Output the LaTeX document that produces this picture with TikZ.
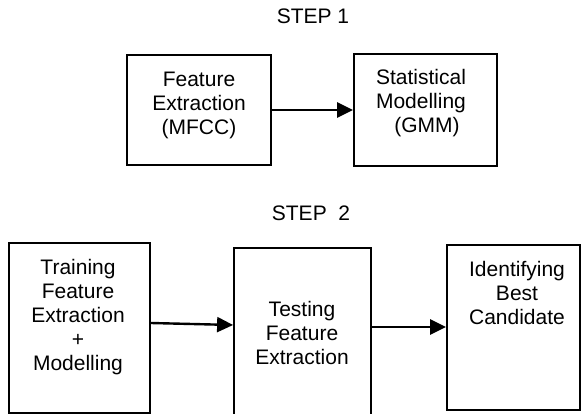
\documentclass[tikz,border=0pt]{standalone}
\usepackage{fontspec}
\setmainfont{Liberation Sans}
\usetikzlibrary{arrows.meta}
\tikzset{
  box/.style={draw=black, line width=1.8pt, rectangle, inner sep=0pt},
  label text/.style={align=center, inner sep=0pt, font=\fontsize{21}{24}\selectfont},
  flow/.style={draw=black, line width=2.4pt, -{Triangle[length=16pt,width=15pt]}}
}
\begin{document}
\begin{tikzpicture}[x=1pt, y=-1pt]
  \clip (0,0) rectangle (581,414);
  \fill[white] (0,0) rectangle (581,414);

  % Step 1
  \node[label text] (s1) at (313,16) {STEP 1};
  \node[box, minimum width=144pt, minimum height=110pt] (fe) at (199,110) {};
  \node[box, minimum width=143pt, minimum height=112pt] (sm) at (425.5,110) {};
  \node[label text] (fet) at (199,105.5) {Feature\\Extraction\\(MFCC)};
  \node[label text] (smt) at (421,103) {Statistical\\Modelling\\\hspace*{12pt}(GMM)};
  \draw[flow] (fe.east) -- (sm.west);

  % Step 2
  \node[label text] (s2) at (311,213) {STEP\ \ 2};
  \node[box, minimum width=141pt, minimum height=170pt] (tr) at (79.5,328) {};
  \node[box, minimum width=137pt, minimum height=172pt] (ts) at (302.5,334) {};
  \node[box, minimum width=133pt, minimum height=165pt] (id) at (513.5,327.5) {};
  \node[label text] (trt) at (78,317) {Training\\Feature\\Extraction\\+\hspace*{12pt}\\Modelling};
  \node[label text] (tst) at (302,333) {Testing\\Feature\\Extraction};
  \node[label text] (idt) at (517,293) {Identifying\\Best\\Candidate};
  \draw[flow] ([yshift=5pt]tr.east) -- ([yshift=9pt]ts.west);
  \draw[flow] ([yshift=7pt]ts.east) -- ([yshift=0.5pt]id.west);
\end{tikzpicture}
\end{document}
